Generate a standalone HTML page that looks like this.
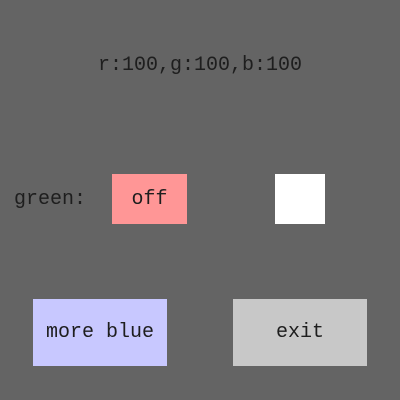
<!DOCTYPE html>
<html><head><style>
body{margin:0;width:400px;height:400px;background:#646464;position:relative;overflow:hidden;font-family:"Liberation Mono",monospace;font-size:20px;color:#1e1e1e}
div{position:absolute;display:flex;align-items:center;justify-content:center;white-space:pre}
</style></head><body>
<div style="left:0;top:50px;width:400px;height:30px">r:100,g:100,b:100</div>
<div style="left:10px;top:184px;width:80px;height:30px">green:</div>
<div style="left:112px;top:174px;width:75px;height:50px;background:#ff9696">off</div>
<div style="left:275px;top:174px;width:50px;height:50px;background:#fff"></div>
<div style="left:33px;top:299px;width:134px;height:67px;background:#c8c8ff">more blue</div>
<div style="left:233px;top:299px;width:134px;height:67px;background:#c8c8c8">exit</div>
</body></html>
